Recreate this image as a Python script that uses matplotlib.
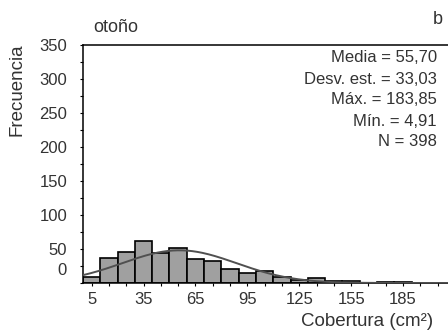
import numpy as np
import matplotlib.pyplot as plt
import matplotlib.transforms as mtransforms

plt.rcParams['font.family'] = ['Liberation Sans', 'DejaVu Sans']

# datos del histograma (bins de 10 cm2)
bin_edges = [0, 10, 20, 30, 40, 50, 60, 70, 80, 90, 100,
             110, 120, 130, 140, 150, 160, 170, 180, 190]
counts = [9, 37, 46, 62, 44, 51, 35, 33, 21, 15, 17, 9, 4, 7, 3, 3, 0, 1, 1]

media = 55.70
desv = 33.03
maximo = 183.85
minimo = 4.91
n = 398

xticks = [5, 35, 65, 95, 125, 155, 185]
yticks = [0, 50, 100, 150, 200, 250, 300, 350]

txt = '#333333'

fig = plt.figure(figsize=(4.48, 3.35), dpi=100)
ax = fig.add_axes([83 / 448, 1 - 283 / 335, 1 - 83 / 448, (283 - 45) / 335])

lefts = np.array(bin_edges[:-1])
widths = np.diff(bin_edges)
ax.bar(lefts, counts, width=widths, align='edge', color='#a0a0a0',
       edgecolor='black', linewidth=1.2, zorder=2)

# curva normal ajustada con la media y desv. est.
xs = np.linspace(0, 215, 300)
ys = n * 10 / (desv * np.sqrt(2 * np.pi)) * np.exp(-0.5 * ((xs - media) / desv) ** 2)
ax.plot(xs, ys, color='#505050', linewidth=1.4, zorder=3)

ax.set_xlim(0, 211)
ax.set_ylim(0, 350)

ax.spines['right'].set_visible(False)
for s in ['left', 'bottom', 'top']:
    ax.spines[s].set_linewidth(1.1)

ax.set_xticks(np.arange(5, 211, 10))
ax.set_xticklabels([str(v) if v in xticks else '' for v in range(5, 211, 10)])
ax.set_yticks(np.arange(0, 351, 25))
ax.set_yticklabels([str(v) if v in yticks else '' for v in range(0, 351, 25)])
ax.tick_params(axis='both', length=2.5, width=0.8, labelsize=12, labelcolor=txt)
ax.tick_params(axis='y', pad=9)
ax.tick_params(axis='x', pad=4)

# la etiqueta 0 va desplazada hacia arriba como en el original
for lab in ax.get_yticklabels():
    if lab.get_text() == '0':
        lab.set_transform(lab.get_transform() +
                          mtransforms.ScaledTranslation(0, 14 / 100, fig.dpi_scale_trans))

fig.text(17 / 448, 1 - 90 / 335, 'Frecuencia', rotation=90, ha='center', va='center',
         fontsize=13.5, color=txt)
fig.text(433 / 448, 1 - 322 / 335, 'Cobertura (cm²)', ha='right', va='center',
         fontsize=13.5, color=txt)
fig.text(93 / 448, 1 - 28 / 335, 'otoño', ha='left', va='center', fontsize=13, color=txt)
fig.text(438 / 448, 1 - 19 / 335, 'b', ha='center', va='center', fontsize=13, color=txt)

lines = ['Media = %s' % f'{media:.2f}'.replace('.', ','),
         'Desv. est. = %s' % f'{desv:.2f}'.replace('.', ','),
         'Máx. = %s' % f'{maximo:.2f}'.replace('.', ','),
         'Mín. = %s' % f'{minimo:.2f}'.replace('.', ','),
         'N = %d' % n]
for i, t in enumerate(lines):
    fig.text(437 / 448, 1 - (58 + 21 * i) / 335, t, ha='right', va='center',
             fontsize=12, color=txt)

fig.savefig('out.png', dpi=100)
